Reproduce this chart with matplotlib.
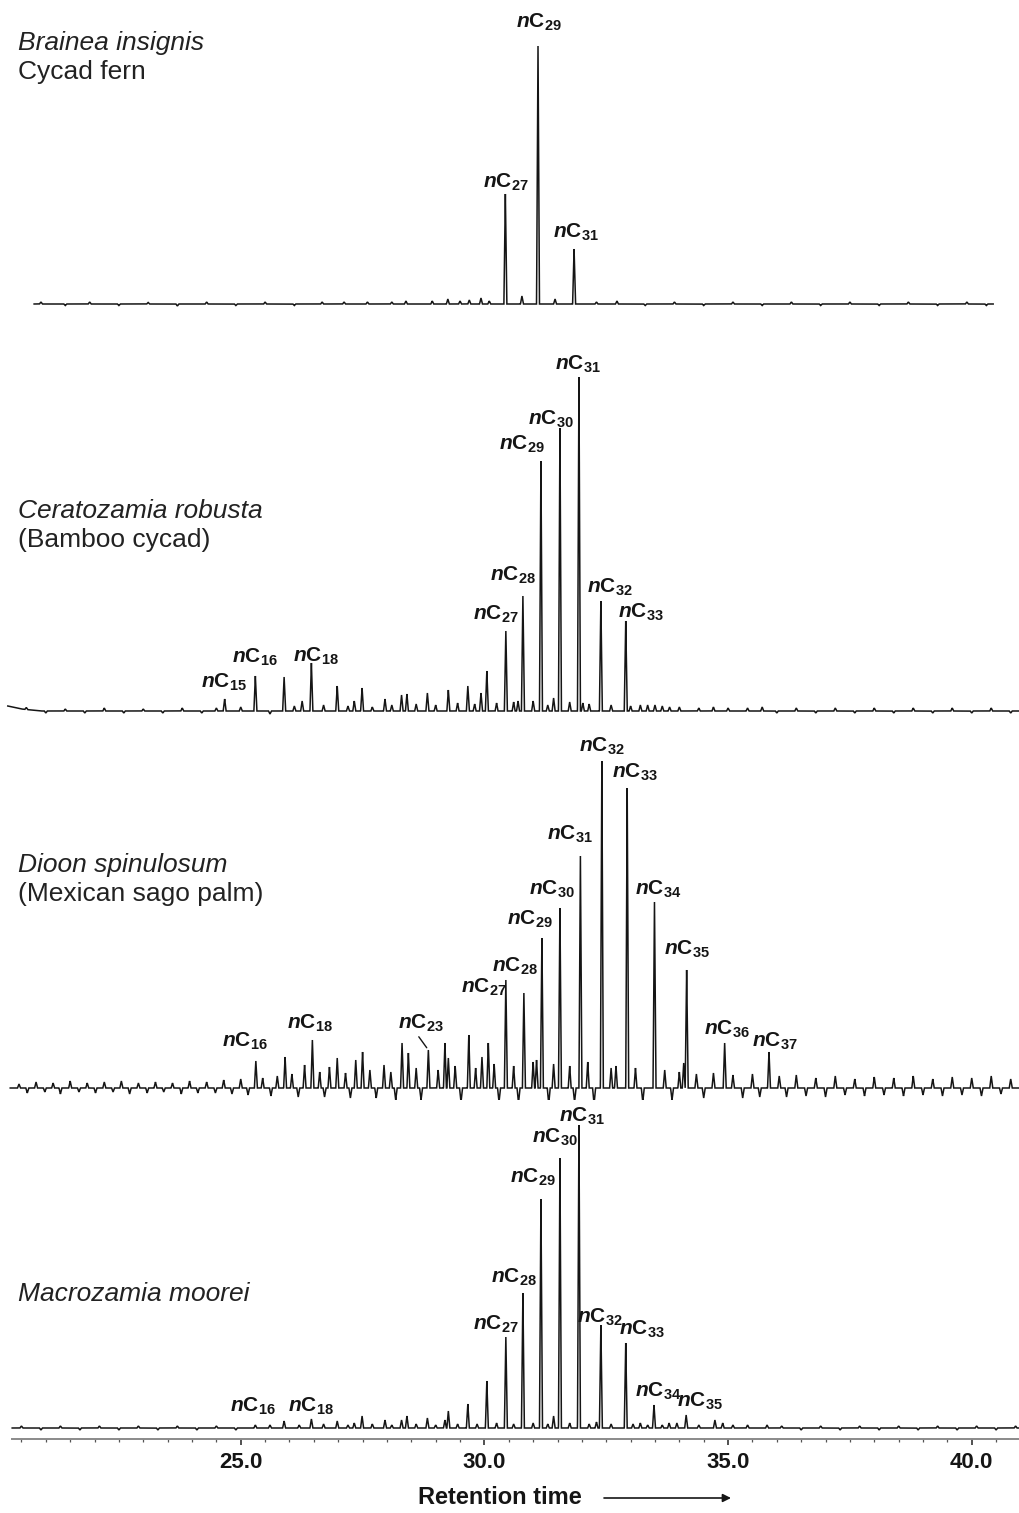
import numpy as np
import matplotlib
matplotlib.use("Agg")
import matplotlib.pyplot as plt
from matplotlib import font_manager


def has_font(name):
    try:
        font_manager.findfont(name, fallback_to_default=False)
        return True
    except ValueError:
        return False


# condensed face for the peak labels if there is one
LABEL_FONT = "Liberation Sans Narrow" if has_font("Liberation Sans Narrow") else "Liberation Sans"

plt.rcParams["font.family"] = "Liberation Sans"
plt.rcParams["mathtext.fontset"] = "custom"
plt.rcParams["mathtext.rm"] = LABEL_FONT + ":bold"
plt.rcParams["mathtext.bf"] = LABEL_FONT + ":bold"
plt.rcParams["mathtext.it"] = LABEL_FONT + ":italic:bold"

# ---------------- data (retention time in min, abundance in arbitrary units) ----------------
# Brainea insignis
brainea_rt = [26.67, 27.12, 28.39, 28.93, 29.25, 29.69, 29.93, 30.43, 30.77, 31.10, 31.45, 31.84, 32.72]
brainea_h = [2, 2, 3, 3, 5, 4, 6, 110, 8, 258, 5, 55, 3]
brainea_noise_rt = [20.9, 21.4, 21.9, 22.5, 23.1, 23.7, 24.3, 24.9, 25.5, 26.1, 27.6, 28.1, 29.5,
                    30.1, 32.3, 33.3, 33.9, 34.5, 35.1, 35.7, 36.3, 36.9, 37.5, 38.1, 38.7, 39.3,
                    39.9, 40.3]
brainea_noise_h = [2, -1.5, 2, -1.5, 1.5, -2, 2, -1.5, 2, -1.5, 2, 2, 3, 3, 2, -1.5, 2, -1.5,
                   2, -1.5, 2, -1.5, 2, -1.5, 2, -1.5, 2, -1.5]
brainea_lab = [27, 29, 31]
brainea_lab_rt = [30.43, 31.10, 31.84]

# Ceratozamia robusta
cerato_rt = [24.67, 25.30, 25.89, 26.26, 26.45, 26.98, 27.33, 27.49, 27.96, 28.30, 28.41, 28.83,
             29.26, 29.66, 29.93, 30.05, 30.44, 30.69, 30.79, 31.16, 31.42, 31.55, 31.94, 32.02,
             32.39, 32.90, 33.20, 33.50, 33.80, 34.40, 35.40]
cerato_h = [12, 35, 34, 10, 48, 25, 10, 23, 12, 16, 17, 18,
            21, 25, 18, 40, 80, 10, 115, 250, 13, 283, 334, 8,
            110, 90, 6, 6, 4, 3, 3]
cerato_noise_rt = [20.6, 21.0, 21.4, 21.8, 22.2, 22.6, 23.0, 23.4, 23.8, 24.2, 24.5, 25.0, 25.6,
                   26.1, 26.7, 27.2, 27.7, 28.1, 28.6, 29.0, 29.45, 29.8, 30.25, 30.6, 31.0, 31.3,
                   31.75, 32.15, 32.6, 33.0, 33.35, 33.65, 34.0, 34.7, 35.0, 35.7, 36.0, 36.4,
                   36.8, 37.2, 37.6, 38.0, 38.4, 38.8, 39.2, 39.6, 40.0, 40.4, 40.8]
cerato_noise_h = [2, -2, 2, -2, 3, -2, 2, -2, 3, -2, 3, 4, -3, 5, 6, 5, 4, 6, 7, 6, 8, 7, 8, 9,
                  10, 6, 9, 7, 6, 5, 6, 5, 4, 4, 3, 4, -2, 3, -2, 3, -2, 3, -2, 3, -2, 3, -2, 3, -2]
cerato_lab = [15, 16, 18, 27, 28, 29, 30, 31, 32, 33]
cerato_lab_rt = [24.67, 25.30, 26.45, 30.44, 30.79, 31.16, 31.55, 31.94, 32.39, 32.90]
cerato_base_rt = [20.22, 20.5, 20.9, 40.97]
cerato_base = [5, 2, 0, 0]

# Dioon spinulosum
dioon_rt = [25.31, 25.91, 26.31, 26.47, 26.82, 26.98, 27.36, 27.50, 27.94, 28.31, 28.44, 28.85,
            29.19, 29.26, 29.68, 29.95, 30.08, 30.44, 30.81, 31.07, 31.18, 31.55, 31.97, 32.41,
            32.60, 32.93, 33.49, 34.09, 34.15, 34.93, 35.84]
dioon_h = [27, 31, 23, 48, 21, 30, 28, 36, 23, 45, 35, 38,
           45, 30, 53, 31, 45, 108, 95, 28, 150, 180, 232, 327,
           20, 300, 186, 25, 118, 45, 36]
# jagged baseline of this run (spikes and dips)
dioon_noise_rt = [20.45, 20.62, 20.8, 20.98, 21.15, 21.3, 21.5, 21.68, 21.85, 22.02, 22.2, 22.38,
                  22.55, 22.72, 22.9, 23.08, 23.25, 23.42, 23.6, 23.78, 23.95, 24.12, 24.3, 24.48,
                  24.65, 24.82, 25.0, 25.15, 25.45, 25.62, 25.75, 26.05, 26.18, 26.62, 26.72,
                  27.15, 27.25, 27.65, 27.78, 28.08, 28.18, 28.6, 28.7, 29.05, 29.4, 29.52, 29.82,
                  30.2, 30.3, 30.6, 30.7, 31.0, 31.32, 31.42, 31.75, 31.85, 32.12, 32.25, 32.7,
                  33.1, 33.25, 33.7, 33.85, 34.0, 34.35, 34.5, 34.7, 35.1, 35.3, 35.5, 35.65,
                  36.05, 36.2, 36.4, 36.6, 36.8, 37.0, 37.2, 37.4, 37.6, 37.8, 38.0, 38.2, 38.4,
                  38.6, 38.8, 39.0, 39.2, 39.4, 39.6, 39.8, 40.0, 40.2, 40.4, 40.6, 40.8]
dioon_noise_h = [4, -5, 6, -4, 5, -6, 7, -4, 5, -5, 6, -4,
                 7, -6, 5, -5, 6, -4, 5, -6, 7, -5, 6, -5,
                 8, -6, 9, -7, 10, -8, 12, 14, -9, 16, -9,
                 15, -10, 18, -10, 16, -12, 20, -12, 18, 22, -14, 20,
                 24, -14, 22, -15, 26, -16, 24, 22, -14, 26, -16, 22,
                 20, -14, 18, -12, 16, 14, -10, 15, 13, -10, 14, -9,
                 12, -9, 13, -8, 10, -9, 12, -7, 9, -8, 11, -7, 10,
                 -8, 12, -7, 9, -8, 11, -7, 10, -8, 12, -6, 9]
dioon_lab = [16, 18, 23, 27, 28, 29, 30, 31, 32, 33, 34, 35, 36, 37]
dioon_lab_rt = [25.31, 26.47, 28.85, 30.44, 30.81, 31.18, 31.55, 31.97, 32.41, 32.93, 33.49,
                34.15, 34.93, 35.84]

# Macrozamia moorei
macro_rt = [25.30, 25.89, 26.45, 26.98, 27.33, 27.49, 27.96, 28.30, 28.41, 28.83, 29.19, 29.26,
            29.66, 30.05, 30.44, 30.79, 31.16, 31.42, 31.55, 31.94, 32.30, 32.39, 32.90, 33.20,
            33.48, 33.79, 33.95, 34.14, 34.73, 34.89, 35.10, 35.80]
macro_h = [3, 7, 9, 7, 5, 12, 8, 8, 12, 10, 8, 17,
           24, 47, 91, 135, 229, 12, 270, 303, 6, 103, 85, 5,
           23, 5, 5, 13, 8, 5, 3, 3]
macro_noise_rt = [20.5, 20.9, 21.3, 21.7, 22.1, 22.5, 22.9, 23.3, 23.7, 24.1, 24.5, 24.9, 25.6,
                  26.2, 26.7, 27.2, 27.7, 28.1, 28.6, 29.0, 29.45, 29.85, 30.25, 30.6, 31.0, 31.3,
                  31.75, 32.15, 32.6, 33.05, 33.35, 33.65, 34.4, 35.4, 36.1, 36.5, 36.9, 37.3,
                  37.7, 38.1, 38.5, 38.9, 39.3, 39.7, 40.1, 40.5, 40.9]
macro_noise_h = [2, -2, 2, -2, 2, -2, 2, -2, 2, -2, 2, -2, 3, 3, 4, 3, 4, 3, 4, 3, 4, 4, 5, 4,
                 5, 4, 5, 4, 4, 4, 3, 3, 3, 3, 2, -2, 2, -2, 2, -2, 2, -2, 2, -2, 2, -2, 2]
macro_lab = [16, 18, 27, 28, 29, 30, 31, 32, 33, 34, 35]
macro_lab_rt = [25.30, 26.45, 30.44, 30.79, 31.16, 31.55, 31.94, 32.39, 32.90, 33.48, 34.14]

species = [("Brainea insignis", "Cycad fern"),
           ("Ceratozamia robusta", "(Bamboo cycad)"),
           ("Dioon spinulosum", "(Mexican sago palm)"),
           ("Macrozamia moorei", None)]

major_ticks = [25.0, 30.0, 35.0, 40.0]

# ---------------- layout ----------------
W, H = 1019, 1513
XLIM = (20.06, 40.97)
PEAK_HW = 0.03  # half width of a peak at its base (min)

# (top px, bottom px) of each band, and its y range
bands = [(0, 320), (320, 720), (720, 1100), (1100, 1439)]
ylims = [(-16, 304), (-9, 391), (-12, 368), (-11, 328)]
trace_span = [(20.76, 40.44), (20.22, 40.97), (20.27, 40.97), (20.31, 40.97)]
name_baselines = [(50, 79), (518, 547), (872, 901), (1301, None)]

# label offsets from the peak apex, in pixels (dx, dy)
label_off = [
    {27: (0, 1), 29: (1, 13), 31: (2, 6)},
    {15: (-1, 6), 16: (0, 8), 18: (5, -4), 27: (-10, 6), 28: (-10, 10), 29: (-19, 6),
     30: (-9, -2), 31: (-1, 2), 32: (9, 3), 33: (15, -2)},
    {16: (-11, 9), 18: (-2, 6), 23: (-7, 16), 27: (-22, -18), 28: (-9, 16), 29: (-12, 8),
     30: (-8, 8), 31: (-11, 11), 32: (0, 4), 33: (8, 5), 34: (4, 2), 35: (0, 10),
     36: (2, 3), 37: (6, 0)},
    {16: (-2, 8), 18: (0, 2), 27: (-10, 2), 28: (-9, 5), 29: (-8, 11), 30: (-5, 10),
     31: (3, -2), 32: (-1, -3), 33: (16, 3), 34: (4, 3), 35: (14, 3)},
]


def make_trace(rt, h, start, end, base_rt=None, base_lv=None):
    x = np.union1d(np.linspace(start, end, 9000), rt)
    up = np.zeros_like(x)
    down = np.zeros_like(x)
    for r, v in zip(rt, h):
        tri = abs(v) * np.clip(1 - np.abs(x - r) / PEAK_HW, 0, None)
        if v >= 0:
            up = np.maximum(up, tri)
        else:
            down = np.minimum(down, -tri)
    y = up + down
    if base_rt is not None:
        y = y + np.interp(x, base_rt, base_lv)
    return x, y


panels = [
    (brainea_rt + brainea_noise_rt, brainea_h + brainea_noise_h, brainea_lab, brainea_lab_rt,
     None, None),
    (cerato_rt + cerato_noise_rt, cerato_h + cerato_noise_h, cerato_lab, cerato_lab_rt,
     cerato_base_rt, cerato_base),
    (dioon_rt + dioon_noise_rt, dioon_h + dioon_noise_h, dioon_lab, dioon_lab_rt, None, None),
    (macro_rt + macro_noise_rt, macro_h + macro_noise_h, macro_lab, macro_lab_rt, None, None),
]

fig = plt.figure(figsize=(W / 100, H / 100), dpi=100)

axes = []
for i, (rt, h, lab, lab_rt, b_rt, b_lv) in enumerate(panels):
    top, bot = bands[i]
    ax = fig.add_axes([0, 1 - bot / H, 1, (bot - top) / H])
    ax.patch.set_visible(False)
    ax.set_xlim(*XLIM)
    ax.set_ylim(*ylims[i])
    for s in ax.spines.values():
        s.set_visible(False)
    ax.set_yticks([])
    ax.set_xticks([])

    x, y = make_trace(rt, h, *trace_span[i], b_rt, b_lv)
    ax.plot(x, y, color="#151515", lw=1.1, solid_joinstyle="miter")

    # peak labels
    lookup = dict(zip(rt, h))
    for c, r in zip(lab, lab_rt):
        dx, dy = label_off[i][c]
        txt = r"$\mathit{n}\mathrm{C}_{%d}$" % c
        kw = {}
        if i == 2 and c == 23:
            kw["arrowprops"] = dict(arrowstyle="-", color="#151515", lw=1.0,
                                    shrinkA=0, shrinkB=2, relpos=(0.4, 0.0))
        ax.annotate(txt, xy=(r, lookup[r]), xytext=(dx, dy), textcoords="offset pixels",
                    ha="center", va="bottom", fontsize=15, color="#151515",
                    annotation_clip=False, **kw)

    # species names
    name, common = species[i]
    yb1, yb2 = name_baselines[i]
    fig.text(18 / W, 1 - yb1 / H, name, fontsize=19, style="italic", color="#222222",
             va="baseline", ha="left")
    if common:
        fig.text(18 / W, 1 - yb2 / H, common, fontsize=19, color="#222222",
                 va="baseline", ha="left")
    axes.append(ax)

# retention time axis on the bottom panel
ax = axes[-1]
ax.spines["bottom"].set_visible(True)
ax.spines["bottom"].set_color("#8a8a8a")
ax.spines["bottom"].set_linewidth(1.4)
ax.spines["bottom"].set_bounds(20.31, XLIM[1])
ax.set_xticks(major_ticks, labels=["%.1f" % t for t in major_ticks],
              fontsize=16, fontweight="bold")
ax.set_xticks(np.arange(20.5, 41.0, 0.5), minor=True)
ax.tick_params(axis="x", which="major", direction="out", length=4.5, width=1.2,
               color="#333333", pad=5, labelcolor="#151515")
ax.tick_params(axis="x", which="minor", direction="out", length=2.2, width=0.9,
               color="#555555")

fig.text(500 / W, 1 - 1498 / H, "Retention time", ha="center", va="center",
         fontsize=17, fontweight="bold", color="#151515")
ax.annotate("", xy=(731, H - 1498), xytext=(604, H - 1498), xycoords="figure pixels",
            textcoords="figure pixels",
            arrowprops=dict(arrowstyle="-|>", color="#151515", lw=1.2, mutation_scale=12,
                            shrinkA=0, shrinkB=0))

fig.savefig("out.png", dpi=100, facecolor="white")
